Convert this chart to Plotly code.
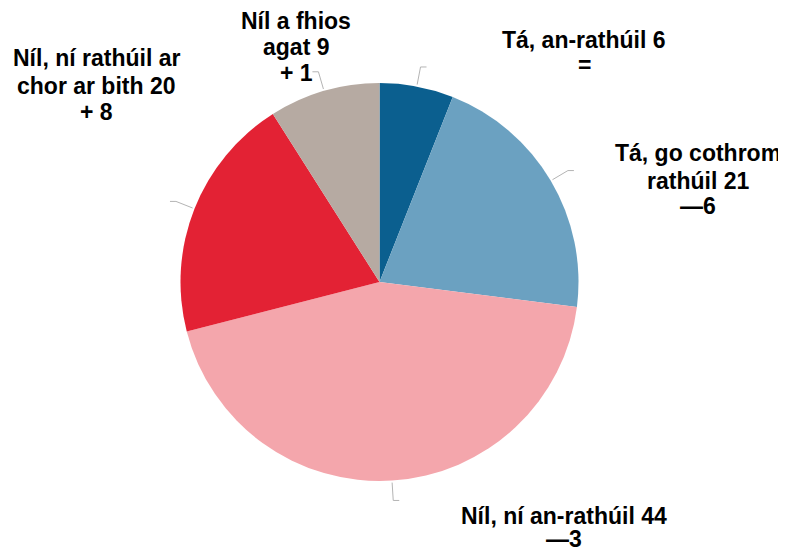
import math
import plotly.graph_objects as go

# data
categories = ["Tá, an-rathúil", "Tá, go cothrom rathúil", "Níl, ní an-rathúil",
              "Níl, ní rathúil ar chor ar bith", "Níl a fhios agat"]
values = [6, 21, 44, 20, 9]
changes = ["=", "—6", "—3", "+ 8", "+ 1"]
colors = ["#0b5f8f", "#6ba1c1", "#f4a6ac", "#e32234", "#b6aaa2"]

# how each label is wrapped (value goes at the end of last line)
label_lines = [
    ["Tá, an-rathúil"],
    ["Tá, go cothrom", "rathúil"],
    ["Níl, ní an-rathúil"],
    ["Níl, ní rathúil ar", "chor ar bith"],
    ["Níl a fhios", "agat"],
]
# label centre x and y of each line (screen pixels)
label_x = [584, 698, 564, 96, 296]
label_y = [[40, 65], [153, 181, 206], [516, 539], [58, 86, 112], [21, 47, 73]]

W, H = 786, 554
OFF = 8  # page body margin in the browser
cx, cy, R = 379.5, 282, 199


def px(x):
    return (x - OFF) / W


def py(y):
    return 1 - (y - OFF) / H


fig = go.Figure(go.Pie(
    labels=categories, values=values, sort=False, direction="clockwise",
    rotation=0, marker=dict(colors=colors, line=dict(width=0)),
    textinfo="none", hoverinfo="label+value",
    domain=dict(x=[px(cx - R), px(cx + R)], y=[py(cy + R), py(cy - R)]),
))

# labels, one annotation per line to keep tight leading
for i, lines in enumerate(label_lines):
    txt = lines[:-1] + [lines[-1] + " " + str(values[i]), changes[i]]
    for t, y in zip(txt, label_y[i]):
        fig.add_annotation(x=px(label_x[i]), y=py(y), xref="paper", yref="paper",
                           text=t, showarrow=False, xanchor="center", yanchor="middle",
                           font=dict(family="Liberation Sans, Arial", size=23,
                                     color="#000000", weight="bold"))

# small leader lines at slice midpoints
total = sum(values)
cum = 0
for v in values:
    a = math.radians((cum + v / 2) / total * 360)
    cum += v
    s, c = math.sin(a), math.cos(a)
    x0, y0 = cx + R * 1.01 * s, cy - R * 1.01 * c
    x1, y1 = cx + R * 1.1 * s, cy - R * 1.1 * c
    x2 = x1 + (6 if s >= 0 else -6)
    for xa, ya, xb, yb in [(x0, y0, x1, y1), (x1, y1, x2, y1)]:
        fig.add_shape(type="line", xref="paper", yref="paper",
                      x0=px(xa), y0=py(ya), x1=px(xb), y1=py(yb),
                      line=dict(color="#b4b4b4", width=1))

fig.update_layout(width=W, height=H, margin=dict(l=0, r=0, t=0, b=0),
                  showlegend=False, paper_bgcolor="white", plot_bgcolor="white")

fig.write_html("out.html")
